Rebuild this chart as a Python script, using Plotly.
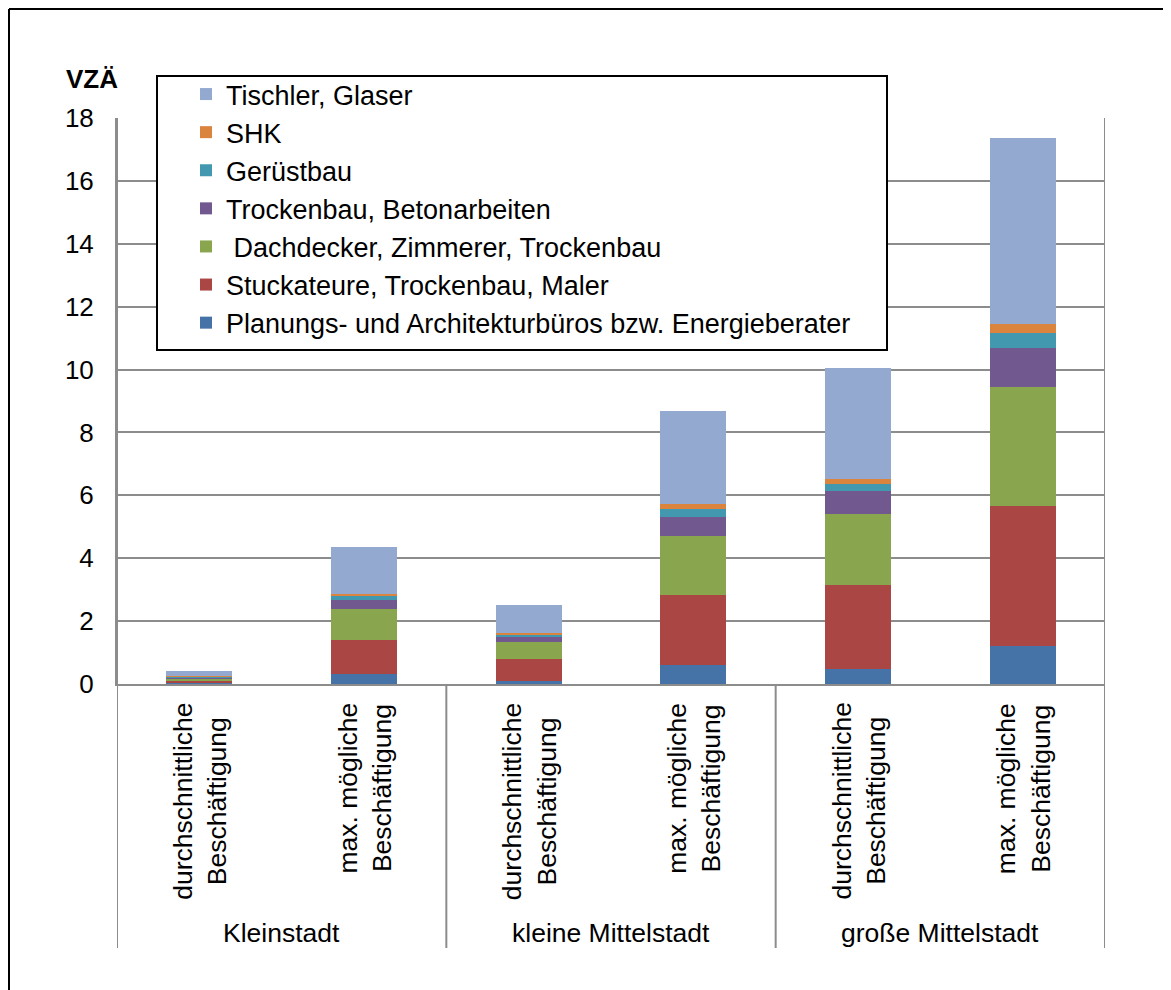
import plotly.graph_objects as go

# ---- data ----
sub_labels = ["durchschnittliche<br>Beschäftigung", "max. mögliche<br>Beschäftigung"] * 3
groups = ["Kleinstadt", "kleine Mittelstadt", "große Mittelstadt"]
series_names = [
    "Planungs- und Architekturbüros bzw. Energieberater",
    "Stuckateure, Trockenbau, Maler",
    " Dachdecker, Zimmerer, Trockenbau",
    "Trockenbau, Betonarbeiten",
    "Gerüstbau",
    "SHK",
    "Tischler, Glaser",
]
planung = [0.02, 0.31, 0.11, 0.60, 0.48, 1.22]
stuck = [0.09, 1.10, 0.67, 2.22, 2.67, 4.44]
dach = [0.08, 0.96, 0.57, 1.90, 2.26, 3.79]
trocken = [0.03, 0.30, 0.17, 0.60, 0.73, 1.22]
geruest = [0.01, 0.13, 0.05, 0.26, 0.22, 0.50]
shk = [0.01, 0.07, 0.04, 0.13, 0.15, 0.27]
tischler = [0.16, 1.48, 0.90, 2.97, 3.55, 5.93]
series_values = [planung, stuck, dach, trocken, geruest, shk, tischler]
colors = ["#4572A7", "#AA4643", "#89A54E", "#71588F", "#4198AF", "#DB843D", "#93A9CF"]
y_ticks = [0, 2, 4, 6, 8, 10, 12, 14, 16, 18]

FONT = "Liberation Sans, Arial, sans-serif"
GRID = "#8C8C8C"

W, H = 1171, 990
OFF = 8  # page body offset
L, R, T, B = 117, 1105, 118, 684
pw, ph = R - L, B - T


def px(x):
    return (x - L) / pw


def py(y):
    return (B - y) / ph


xs = list(range(len(sub_labels)))

fig = go.Figure()
for name, vals, col in zip(series_names, series_values, colors):
    fig.add_trace(go.Bar(x=xs, y=vals, name=name, marker=dict(color=col, line=dict(width=0))))

shapes = []
# legend box
shapes.append(dict(type="rect", xref="paper", yref="paper", x0=px(157), x1=px(887), y0=py(350), y1=py(76),
                   line=dict(color="black", width=2), fillcolor="white", layer="above"))
# category separators
for xv, top in [(-0.5, 1), (1.5, 0), (3.5, 0), (5.5, 1)]:
    shapes.append(dict(type="line", xref="x", yref="paper", x0=xv, x1=xv, y0=py(948), y1=top,
                       line=dict(color=GRID, width=2)))
# outer frame (left and top), as close to the page corner as possible
fx, fy = OFF + 1, OFF + 1
shapes.append(dict(type="line", xref="paper", yref="paper", x0=px(fx), x1=px(fx), y0=py(1010), y1=py(fy),
                   line=dict(color="black", width=2)))
shapes.append(dict(type="line", xref="paper", yref="paper", x0=px(fx), x1=px(1190), y0=py(fy), y1=py(fy),
                   line=dict(color="black", width=2)))

annotations = []
for i, lab in enumerate(sub_labels):
    annotations.append(dict(x=xs[i], xref="x", y=py(701), yref="paper", text=lab, textangle=-90,
                            xanchor="center", yanchor="top", align="center", showarrow=False,
                            font=dict(family=FONT, size=26.5, color="black")))
for g, name in enumerate(groups):
    annotations.append(dict(x=2 * g + 0.5, xref="x", y=py(933), yref="paper", text=name,
                            xanchor="center", yanchor="middle", showarrow=False,
                            font=dict(family=FONT, size=26.5, color="black")))
annotations.append(dict(x=px(92), xref="paper", y=py(79), yref="paper", text="<b>VZÄ</b>",
                        xanchor="center", yanchor="middle", showarrow=False,
                        font=dict(family=FONT, size=26, color="black")))

fig.update_layout(
    width=W, height=H,
    margin=dict(l=L - OFF, r=W - (R - OFF), t=T - OFF, b=H - (B - OFF), autoexpand=False),
    paper_bgcolor="white", plot_bgcolor="white",
    barmode="stack", bargap=0.6,
    font=dict(family=FONT, size=26, color="black"),
    showlegend=True,
    legend=dict(x=px(186), y=py(70), xanchor="left", yanchor="top", traceorder="reversed",
                bgcolor="rgba(0,0,0,0)", borderwidth=0,
                font=dict(family=FONT, size=27, color="black")),
    xaxis=dict(range=[-0.5, 5.5], showticklabels=False, showgrid=False, zeroline=False,
               showline=True, linecolor=GRID, linewidth=2, ticks=""),
    yaxis=dict(range=[0, 18], tickvals=y_ticks, showgrid=True, gridcolor=GRID, gridwidth=2,
               zeroline=False, showline=True, linecolor=GRID, linewidth=2, ticks="",
               ticklabelstandoff=16, tickfont=dict(family=FONT, size=26, color="black")),
    shapes=shapes,
    annotations=annotations,
)

fig.write_html("out.html")
